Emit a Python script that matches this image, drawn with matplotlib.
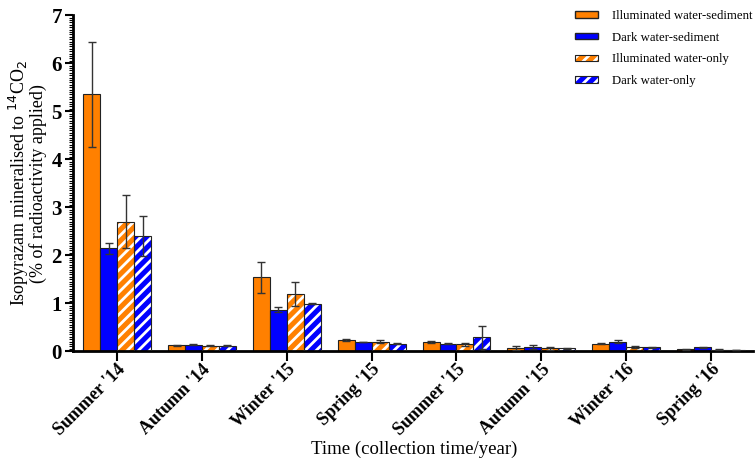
import numpy as np
import matplotlib
matplotlib.use('Agg')
import matplotlib.pyplot as plt
from matplotlib.ticker import MultipleLocator
from matplotlib.patches import Patch

seasons = ["Summer '14", "Autumn '14", "Winter '15", "Spring '15",
           "Summer '15", "Autumn '15", "Winter '16", "Spring '16"]

ill_ws = [5.35, 0.12, 1.54, 0.24, 0.19, 0.06, 0.15, 0.04]
ill_ws_err = [1.10, 0.01, 0.32, 0.02, 0.03, 0.04, 0.01, 0.01]
dark_ws = [2.14, 0.13, 0.86, 0.19, 0.155, 0.09, 0.20, 0.08]
dark_ws_err = [0.12, 0.01, 0.05, 0.01, 0.01, 0.04, 0.04, 0.01]
ill_wo = [2.70, 0.11, 1.19, 0.20, 0.14, 0.055, 0.095, 0.03]
ill_wo_err = [0.55, 0.01, 0.26, 0.03, 0.03, 0.04, 0.02, 0.005]
dark_wo = [2.40, 0.11, 0.99, 0.155, 0.29, 0.055, 0.08, 0.025]
dark_wo_err = [0.41, 0.01, 0.01, 0.005, 0.24, 0.02, 0.005, 0.005]

orange = '#ff8000'
blue = '#0000ff'
plt.rcParams['font.family'] = ['Liberation Serif', 'DejaVu Serif']
plt.rcParams['hatch.linewidth'] = 2.0

fig = plt.figure(figsize=(7.56, 4.59), dpi=100)
ax = fig.add_axes([0.0966, 0.235, 0.9, 0.732])

x = np.arange(len(seasons))
w = 0.2
series = [(ill_ws, ill_ws_err, orange, None),
          (dark_ws, dark_ws_err, blue, None),
          (ill_wo, ill_wo_err, orange, '///'),
          (dark_wo, dark_wo_err, blue, '///')]

for i, (vals, errs, col, hatch) in enumerate(series):
    pos = x + (i - 1.5) * w
    if hatch:
        ax.bar(pos, vals, w, color=col, edgecolor='white', hatch=hatch, linewidth=0, zorder=2)
        ax.bar(pos, vals, w, fill=False, edgecolor='#222222', linewidth=0.8, zorder=3)
    else:
        ax.bar(pos, vals, w, color=col, edgecolor='#222222', linewidth=0.8, zorder=2)
    ax.errorbar(pos, vals, yerr=errs, fmt='none', ecolor='#333333', elinewidth=1,
                capsize=3, capthick=1, zorder=4)

ax.set_xlim(-0.52, 7.5)
ax.set_ylim(0, 7)
ax.set_xticks(x)
ax.set_xticklabels(seasons, rotation=45, ha='right', rotation_mode='anchor',
                   fontsize=13, fontweight='bold')
ax.yaxis.set_major_locator(MultipleLocator(1))
ax.yaxis.set_minor_locator(MultipleLocator(0.05))
for lab in ax.get_yticklabels():
    lab.set_fontweight('bold')
    lab.set_fontsize(15)
ax.tick_params(axis='y', which='major', length=6, width=1.5, pad=2)
ax.tick_params(axis='y', which='minor', length=3, width=0.8)
ax.tick_params(axis='x', length=7, width=1.5, pad=0)
for s in ['top', 'right']:
    ax.spines[s].set_visible(False)
for s in ['left', 'bottom']:
    ax.spines[s].set_linewidth(2)

ax.set_xlabel('Time (collection time/year)', fontsize=13.5)
ax.xaxis.set_label_coords(0.501, -0.268)
ax.set_ylabel('Isopyrazam mineralised to $^{14}$CO$_2$\n(% of radioactivity applied)',
              fontsize=13, linespacing=0.9, labelpad=3)

def hatched(col):
    return (Patch(facecolor=col, edgecolor='white', hatch='///', linewidth=0),
            Patch(fill=False, edgecolor='#222222', linewidth=0.8))

handles = [Patch(facecolor=orange, edgecolor='#222222'),
           Patch(facecolor=blue, edgecolor='#222222'),
           hatched(orange), hatched(blue)]
labels = ['Illuminated water-sediment', 'Dark water-sediment',
          'Illuminated water-only', 'Dark water-only']
ax.legend(handles, labels, loc='upper right', frameon=False, fontsize=9.2,
          handlelength=1.8, handleheight=0.4, handletextpad=1.1, labelspacing=0.75,
          borderaxespad=0, bbox_to_anchor=(1.006, 1.03))

fig.savefig('out.png', dpi=100)
